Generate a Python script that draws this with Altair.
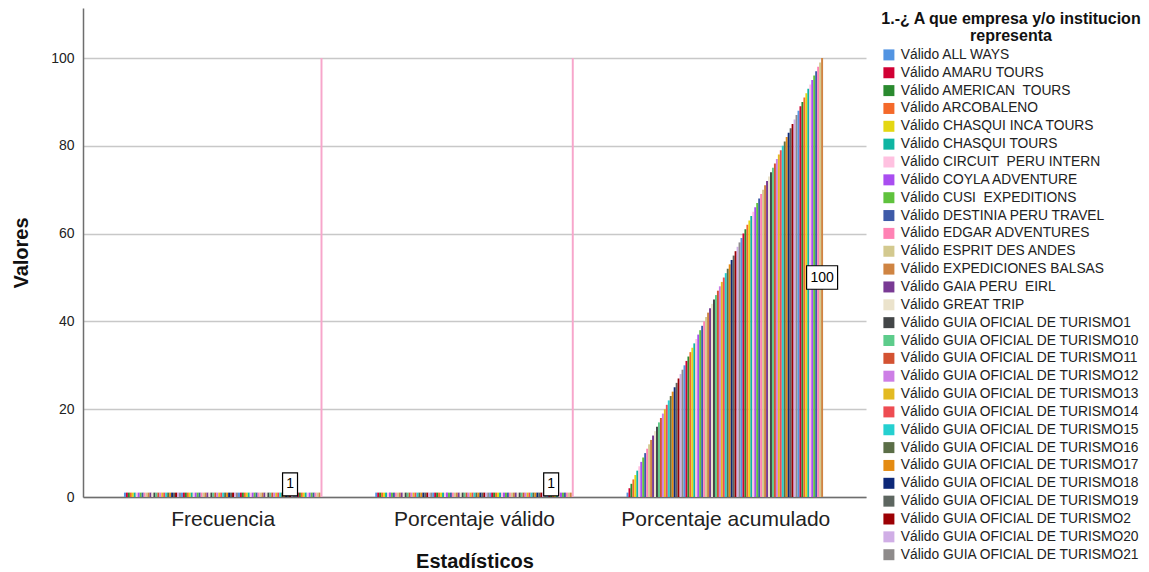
import altair as alt
import pandas as pd

# Statistics shown on the x axis
grupos = ["Frecuencia", "Porcentaje válido", "Porcentaje acumulado"]

# Companies / institutions (alphabetical, as listed in the frequency table)
otras_empresas = [
    "ALL WAYS", "AMARU TOURS", "AMERICAN\u00a0 TOURS", "ARCOBALENO",
    "CHASQUI INCA TOURS", "CHASQUI TOURS", "CIRCUIT\u00a0 PERU INTERN",
    "COYLA ADVENTURE", "CUSI\u00a0 EXPEDITIONS", "DESTINIA PERU TRAVEL",
    "EDGAR ADVENTURES", "ESPRIT DES ANDES", "EXPEDICIONES BALSAS",
    "GAIA PERU\u00a0 EIRL", "GREAT TRIP",
]
guias = ["GUIA OFICIAL DE TURISMO" + s for s in sorted(str(i) for i in range(1, 86))]
empresas = ["Válido " + n for n in otras_empresas + guias] + ["Total"]

# Frequency of each company, last entry is the table total
frecuencia = [
    1, 1, 1, 1, 1, 1, 1, 1, 1, 1, 1, 1, 1, 1, 1, 1, 1, 1, 1, 1,
    1, 1, 1, 1, 1, 1, 1, 1, 1, 1, 1, 1, 1, 1, 1, 1, 1, 1, 1, 1,
    1, 1, 1, 1, 1, 1, 1, 1, 1, 1, 1, 1, 1, 1, 1, 1, 1, 1, 1, 1,
    1, 1, 1, 1, 1, 1, 1, 1, 1, 1, 1, 1, 1, 1, 1, 1, 1, 1, 1, 1,
    1, 1, 1, 1, 1, 1, 1, 1, 1, 1, 1, 1, 1, 1, 1, 1, 1, 1, 1, 1,
    100,
]
# Valid percentage, last entry is the total
porcentaje_valido = [
    1, 1, 1, 1, 1, 1, 1, 1, 1, 1, 1, 1, 1, 1, 1, 1, 1, 1, 1, 1,
    1, 1, 1, 1, 1, 1, 1, 1, 1, 1, 1, 1, 1, 1, 1, 1, 1, 1, 1, 1,
    1, 1, 1, 1, 1, 1, 1, 1, 1, 1, 1, 1, 1, 1, 1, 1, 1, 1, 1, 1,
    1, 1, 1, 1, 1, 1, 1, 1, 1, 1, 1, 1, 1, 1, 1, 1, 1, 1, 1, 1,
    1, 1, 1, 1, 1, 1, 1, 1, 1, 1, 1, 1, 1, 1, 1, 1, 1, 1, 1, 1,
    100,
]
# Cumulative percentage (no value for the total row)
porcentaje_acumulado = [
    1, 2, 3, 4, 5, 6, 7, 8, 9, 10, 11, 12, 13, 14, 15, 16, 17, 18, 19, 20,
    21, 22, 23, 24, 25, 26, 27, 28, 29, 30, 31, 32, 33, 34, 35, 36, 37, 38, 39, 40,
    41, 42, 43, 44, 45, 46, 47, 48, 49, 50, 51, 52, 53, 54, 55, 56, 57, 58, 59, 60,
    61, 62, 63, 64, 65, 66, 67, 68, 69, 70, 71, 72, 73, 74, 75, 76, 77, 78, 79, 80,
    81, 82, 83, 84, 85, 86, 87, 88, 89, 90, 91, 92, 93, 94, 95, 96, 97, 98, 99, 100,
    None,
]

# Bars that carry a value label, one per statistic
series_etiquetadas = [empresas[84], empresas[89], empresas[99]]

paleta = [
    "#5294e2", "#d10034", "#2a8a2f", "#f4692a", "#e4d712", "#0fb5a2", "#ffc1e0",
    "#a94df0", "#5fc23d", "#3e5aa8", "#ff82b4", "#d3c98f", "#cf8442", "#793a94",
    "#ebe3cc", "#434648", "#5dcc8b", "#d35232", "#cd7ee6", "#e3ba22", "#ee4c52",
    "#25d0d0", "#5b6e47", "#e48b12", "#0d2878", "#5d6660", "#9c0004", "#d0aee6",
    "#8e8b8b",
]
colores = [paleta[i % len(paleta)] for i in range(len(empresas) - 1)] + ["#f7a6cb"]

filas = []
for grupo, valores in zip(grupos, [frecuencia, porcentaje_valido, porcentaje_acumulado]):
    for serie, v in zip(empresas, valores):
        if v is not None:
            filas.append({"estadistico": grupo, "serie": serie, "valor": v})
df = pd.DataFrame(filas)

pares = list(zip(grupos, series_etiquetadas))
etiquetas = pd.DataFrame([r for r in filas if (r["estadistico"], r["serie"]) in pares])

FONT = "Liberation Sans"

x_enc = alt.X(
    "estadistico:N", sort=grupos,
    scale=alt.Scale(paddingInner=0.21, paddingOuter=0.163),
    axis=alt.Axis(
        title="Estadísticos", labelAngle=0, labelFontSize=21, labelColor="#222222",
        labelPadding=11, labelLimit=400, ticks=False, domainColor="#6e6e6e", domainWidth=1.5,
        titleFontSize=20, titleFontWeight="bold", titleColor="#111111", titlePadding=22,
        grid=False,
    ),
)
xoff_enc = alt.XOffset("serie:N", sort=empresas, scale=alt.Scale(paddingInner=0, paddingOuter=0))
y_scale = alt.Scale(domain=[0, 111.4], nice=False, zero=True)

bars = alt.Chart(df).mark_bar(strokeWidth=0).encode(
    x=x_enc,
    xOffset=xoff_enc,
    y=alt.Y(
        "valor:Q", scale=y_scale,
        axis=alt.Axis(
            title="Valores", values=[0, 20, 40, 60, 80, 100], ticks=False,
            labelFontSize=14, labelColor="#222222", labelPadding=9,
            domainColor="#6e6e6e", domainWidth=1.5,
            gridColor="#c8c8c8", gridWidth=1.5,
            titleFontSize=20, titleFontWeight="bold", titleColor="#111111", titlePadding=19,
        ),
    ),
    color=alt.Color(
        "serie:N", sort=empresas,
        scale=alt.Scale(domain=empresas, range=colores),
        legend=alt.Legend(
            title=["1.-¿ A que empresa y/o institucion", "representa"],
            values=empresas[:29], orient="none", legendX=798, legendY=3,
            symbolType="square", symbolSize=121, symbolStrokeWidth=0,
            labelFontSize=13.8, labelColor="#222222", labelLimit=400, labelOffset=5,
            titleFontSize=16, titleFontWeight="bold", titleColor="#111111",
            titleLimit=500, titleAlign="center", titleAnchor="middle", titleLineHeight=17,
            titlePadding=4, rowPadding=2.85,
        ),
    ),
)

lab_base = alt.Chart(etiquetas).transform_calculate(mitad="datum.valor / 2")
enc = dict(
    x=alt.X("estadistico:N", sort=grupos),
    xOffset=alt.XOffset("serie:N", sort=empresas),
    y=alt.Y("mitad:Q", scale=y_scale),
)

ancho = lab_base.transform_filter("datum.valor >= 10")
estrecho = lab_base.transform_filter("datum.valor < 10")

# Custom symbol paths are scaled by sqrt(size)/2
caja_ancha = ancho.mark_point(
    shape="M-1.32,-1H1.32V1H-1.32Z", size=552, filled=True,
    fill="white", stroke="black", strokeWidth=1.2, opacity=1,
).encode(**enc)
texto_ancho = ancho.mark_text(fontSize=14, color="black", font=FONT).encode(
    text=alt.Text("valor:Q"), **enc)

caja_estrecha = estrecho.mark_point(
    shape="M-0.65,-1H0.65V1H-0.65Z", size=529, filled=True,
    fill="white", stroke="black", strokeWidth=1.2, opacity=1, yOffset=-10.5,
).encode(**enc)
texto_estrecho = estrecho.mark_text(
    fontSize=14, color="black", font=FONT, yOffset=-10.5,
).encode(text=alt.Text("valor:Q"), **enc)

chart = alt.layer(
    bars, caja_ancha, texto_ancho, caja_estrecha, texto_estrecho
).properties(
    width=783, height=489,
    autosize=alt.AutoSizeParams(type="none"),
    padding={"left": 83, "top": 8, "right": 283, "bottom": 75},
).configure(
    font=FONT,
).configure_view(stroke=None)

chart.save("out.html", embed_options={"renderer": "svg", "actions": False})
